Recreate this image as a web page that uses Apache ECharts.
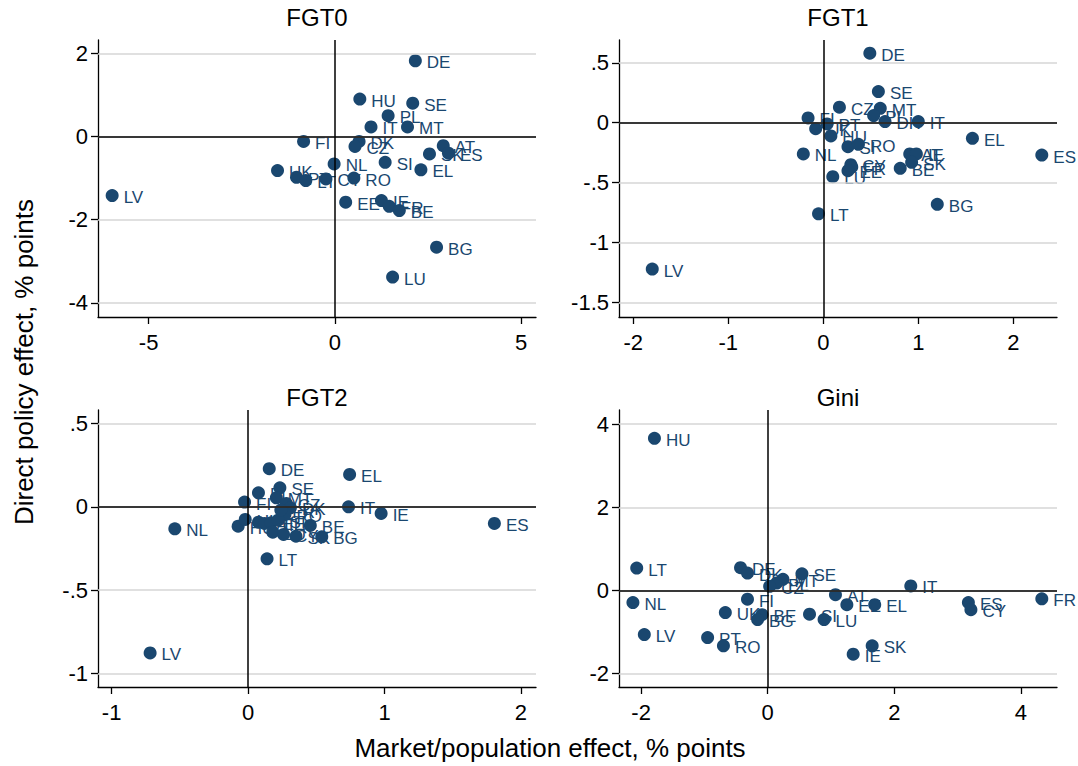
<!DOCTYPE html>
<html>
<head>
<meta charset="utf-8">
<title>Poverty and inequality decomposition</title>
<script src="https://cdn.jsdelivr.net/npm/echarts@6/dist/echarts.min.js"></script>
<style>
  html, body { margin: 0; padding: 0; background: #fff; }
  #chart { width: 1078px; height: 766px; }
</style>
</head>
<body>
<div id="chart"></div>
<script>
// ---- data ----
const fgt0Names = ["DE","HU","SE","PL","IT","MT","FI","DK","CZ","AT","SK","ES","NL","SI","EL","UK","PT","LT","CY","RO","LV","EE","IE","FR","BE","BG","LU"];
const fgt0X = [2.16,0.67,2.09,1.43,0.97,1.95,-0.84,0.65,0.54,2.91,2.54,3.05,-0.02,1.35,2.31,-1.54,-1.03,-0.78,-0.24,0.51,-5.98,0.29,1.25,1.46,1.73,2.73,1.55];
const fgt0Y = [1.82,0.90,0.80,0.50,0.23,0.23,-0.12,-0.12,-0.24,-0.22,-0.42,-0.40,-0.66,-0.62,-0.80,-0.82,-0.98,-1.06,-1.02,-1.00,-1.42,-1.58,-1.54,-1.68,-1.78,-2.66,-3.38];

const fgt1Names = ["DE","SE","CZ","MT","PL","DK","IT","FI","PT","UK","HU","SI","RO","NL","EL","ES","AT","IE","SK","CY","FR","EE","BE","LU","BG","LT","LV"];
const fgt1X = [0.49,0.58,0.17,0.60,0.53,0.65,1.00,-0.16,0.04,-0.08,0.08,0.26,0.37,-0.21,1.57,2.30,0.91,0.98,0.93,0.29,0.30,0.26,0.81,0.10,1.20,-0.05,-1.80];
const fgt1Y = [0.58,0.26,0.13,0.12,0.06,0.01,0.01,0.04,-0.01,-0.05,-0.11,-0.20,-0.18,-0.26,-0.13,-0.27,-0.26,-0.26,-0.33,-0.35,-0.37,-0.40,-0.38,-0.45,-0.68,-0.76,-1.22];

const fgt2Names = ["DE","EL","SE","PL","MT","FI","CZ","DK","RO","IT","IE","ES","NL","HU","UK","PT","AT","EE","SI","FR","BE","LU","CY","SK","BG","LT","LV"];
const fgt2X = [0.155,0.744,0.233,0.076,0.207,-0.026,0.28,0.31,0.27,0.736,0.975,1.805,-0.537,-0.073,-0.021,0.076,0.12,0.168,0.22,0.24,0.456,0.181,0.26,0.351,0.54,0.139,-0.718];
const fgt2Y = [0.228,0.194,0.114,0.084,0.054,0.028,0.02,-0.006,-0.046,0.0,-0.04,-0.10,-0.132,-0.116,-0.076,-0.092,-0.10,-0.096,-0.08,-0.02,-0.112,-0.152,-0.166,-0.176,-0.18,-0.312,-0.876];

const giniNames = ["HU","LT","NL","LV","DE","DK","SE","MT","PL","CZ","FI","UK","BE","BG","PT","RO","AT","EE","EL","SI","LU","IT","ES","CY","FR","SK","IE"];
const giniX = [-1.79,-2.07,-2.13,-1.95,-0.43,-0.32,0.54,0.24,0.14,0.03,-0.32,-0.67,-0.09,-0.16,-0.95,-0.70,1.07,1.25,1.69,0.66,0.89,2.26,3.17,3.21,4.33,1.65,1.35];
const giniY = [3.66,0.54,-0.29,-1.06,0.55,0.42,0.40,0.27,0.18,0.10,-0.21,-0.53,-0.58,-0.70,-1.13,-1.33,-0.10,-0.34,-0.34,-0.57,-0.70,0.11,-0.29,-0.46,-0.20,-1.33,-1.53];

const panelTitles = ["FGT0", "FGT1", "FGT2", "Gini"];
const xTickValues = [[-5, 0, 5], [-2, -1, 0, 1, 2], [-1, 0, 1, 2], [-2, 0, 2, 4]];
const yTickValues = [[-4, -2, 0, 2], [-1.5, -1, -0.5, 0, 0.5], [-1, -0.5, 0, 0.5], [-2, 0, 2, 4]];
const xAxisTitle = "Market/population effect, % points";
const yAxisTitle = "Direct policy effect, % points";

// ---- layout ----
const NAVY = "#1a476f";
const FONT = "Liberation Sans";
const grids = [
  { left: 98, top: 40, width: 438, height: 277 },
  { left: 619, top: 40, width: 438, height: 277 },
  { left: 98, top: 410, width: 438, height: 277 },
  { left: 619, top: 410, width: 438, height: 277 },
];
const xRanges = [[-6.36, 5.40], [-2.15, 2.46], [-1.10, 2.11], [-2.35, 4.57]];
const yRanges = [[-4.34, 2.32], [-1.62, 0.69], [-1.08, 0.58], [-2.32, 4.34]];

const panels = [
  { names: fgt0Names, xs: fgt0X, ys: fgt0Y },
  { names: fgt1Names, xs: fgt1X, ys: fgt1Y },
  { names: fgt2Names, xs: fgt2X, ys: fgt2Y },
  { names: giniNames, xs: giniX, ys: giniY },
];

// stata style: ".5" instead of "0.5"
function fmt(v) {
  return String(v).replace(/^(-?)0\./, "$1.");
}

function makeAxis(i, isX) {
  const ticks = isX ? xTickValues[i] : yTickValues[i];
  const range = isX ? xRanges[i] : yRanges[i];
  return {
    type: "value",
    gridIndex: i,
    min: range[0],
    max: range[1],
    axisLine: { show: true, onZero: false, lineStyle: { color: "#000", width: 1.3 } },
    axisTick: { show: true, customValues: ticks, length: 7, lineStyle: { color: "#000", width: 1.3 } },
    axisLabel: {
      customValues: ticks,
      formatter: fmt,
      color: "#000",
      fontSize: 22,
      fontFamily: FONT,
      margin: isX ? 14 : 10,
    },
    splitLine: { show: false },
  };
}

const series = [];
panels.forEach((p, i) => {
  // horizontal grid lines at the y ticks
  series.push({
    type: "scatter",
    xAxisIndex: i,
    yAxisIndex: i,
    data: [],
    z: 1,
    silent: true,
    markLine: {
      silent: true,
      symbol: ["none", "none"],
      label: { show: false },
      lineStyle: { color: "#d6d6d6", width: 1.5, type: "solid" },
      emphasis: { disabled: true },
      data: yTickValues[i].map((v) => ({ yAxis: v })),
    },
  });
  // reference lines at zero
  series.push({
    type: "scatter",
    xAxisIndex: i,
    yAxisIndex: i,
    data: [],
    z: 2,
    silent: true,
    markLine: {
      silent: true,
      symbol: ["none", "none"],
      label: { show: false },
      lineStyle: { color: "#000", width: 1.5, type: "solid" },
      emphasis: { disabled: true },
      data: [{ xAxis: 0 }, { yAxis: 0 }],
    },
  });
  series.push({
    type: "scatter",
    xAxisIndex: i,
    yAxisIndex: i,
    z: 3,
    symbolSize: 13,
    itemStyle: { color: NAVY, opacity: 1 },
    label: {
      show: true,
      position: "right",
      distance: 5,
      offset: [0, 2],
      formatter: "{b}",
      color: NAVY,
      fontSize: 17,
      fontFamily: FONT,
    },
    emphasis: { disabled: true },
    data: p.names.map((n, k) => ({ name: n, value: [p.xs[k], p.ys[k]] })),
  });
});

const titleCenters = [[317, 17], [838, 17], [317, 397], [838, 397]];
const graphic = panelTitles.map((t, i) => ({
  type: "text",
  x: titleCenters[i][0],
  y: titleCenters[i][1],
  style: {
    text: t,
    fill: "#000",
    font: "24px " + FONT,
    align: "center",
    verticalAlign: "middle",
  },
}));
graphic.push({
  type: "text",
  x: 550,
  y: 748,
  style: { text: xAxisTitle, fill: "#000", font: "26px " + FONT, align: "center", verticalAlign: "middle" },
});
graphic.push({
  type: "text",
  x: 24,
  y: 362,
  rotation: Math.PI / 2,
  style: { text: yAxisTitle, fill: "#000", font: "26px " + FONT, align: "center", verticalAlign: "middle" },
});

const chart = echarts.init(document.getElementById("chart"), null, { renderer: "svg" });
chart.setOption({
  animation: false,
  backgroundColor: "#fff",
  grid: grids,
  xAxis: panels.map((p, i) => makeAxis(i, true)),
  yAxis: panels.map((p, i) => makeAxis(i, false)),
  series: series,
  graphic: graphic,
});
</script>
</body>
</html>
